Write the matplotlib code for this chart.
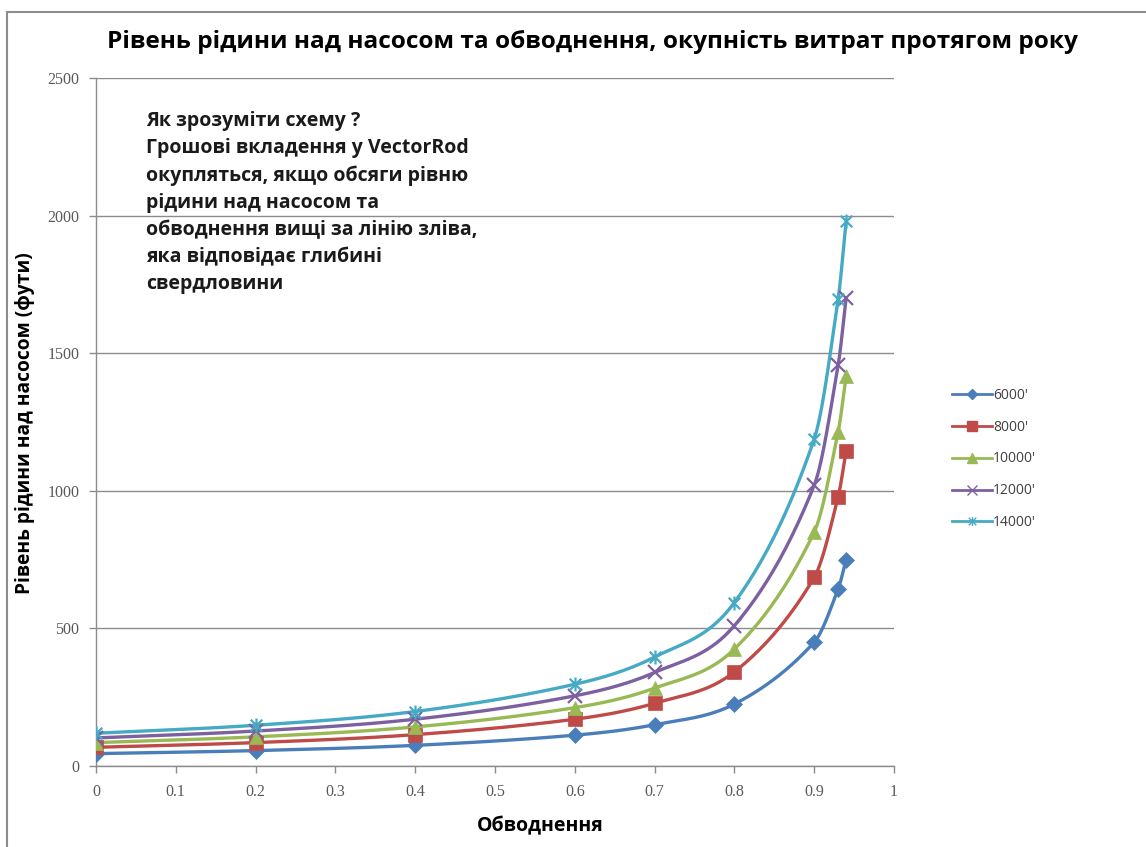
import numpy as np
import matplotlib
matplotlib.use("Agg")
import matplotlib.pyplot as plt
from matplotlib.path import Path
from matplotlib.lines import Line2D

plt.rcParams['font.family'] = ['Open Sans', 'DejaVu Sans']

# Water cut values (fraction)
water_cut = [0.0, 0.2, 0.4, 0.6, 0.7, 0.8, 0.9, 0.93, 0.94]

# Fluid level above pump (ft) for each well depth
depths = ["6000'", "8000'", "10000'", "12000'", "14000'"]
level_6000 = [45, 56, 75, 112, 150, 225, 450, 643, 750]
level_8000 = [68, 85, 114, 170, 228, 342, 685, 978, 1145]
level_10000 = [85, 106, 142, 212, 283, 425, 850, 1214, 1417]
level_12000 = [102, 127, 170, 255, 340, 510, 1020, 1457, 1700]
level_14000 = [119, 148, 198, 297, 396, 594, 1188, 1697, 1980]

x_ticks = [0, 0.1, 0.2, 0.3, 0.4, 0.5, 0.6, 0.7, 0.8, 0.9, 1]
x_tick_labels = ["0", "0.1", "0.2", "0.3", "0.4", "0.5", "0.6", "0.7", "0.8", "0.9", "1"]
y_ticks = [0, 500, 1000, 1500, 2000, 2500]

title = "Рівень рідини над насосом та обводнення, окупність витрат протягом року"
x_label = "Обводнення"
y_label = "Рівень рідини над насосом (фути)"
note = ("Як зрозуміти схему ?\n"
        "Грошові вкладення у VectorRod\n"
        "окупляться, якщо обсяги рівню\n"
        "рідини над насосом та\n"
        "обводнення вищі за лінію зліва,\n"
        "яка відповідає глибині\n"
        "свердловини")

colors = ["#4A7EBB", "#BE4B48", "#98B954", "#7D60A0", "#46AAC5"]

# Star marker: an x crossed with a vertical bar
star_path = Path(
    [(-1, -1), (1, 1), (-1, 1), (1, -1), (0, -1.2), (0, 1.2)],
    [Path.MOVETO, Path.LINETO, Path.MOVETO, Path.LINETO, Path.MOVETO, Path.LINETO],
)
markers = ["D", "s", "^", "x", star_path]
marker_sizes = [8, 10, 10, 10, 10]


def smooth(xs, ys, n=40):
    """Cubic Hermite curve through the points with centred-difference slopes."""
    xs = np.asarray(xs, float)
    ys = np.asarray(ys, float)
    m = len(xs)
    slopes = np.empty(m)
    for i in range(m):
        a = max(i - 1, 0)
        b = min(i + 1, m - 1)
        slopes[i] = (ys[b] - ys[a]) / (xs[b] - xs[a])
    px, py = [], []
    for i in range(m - 1):
        h = xs[i + 1] - xs[i]
        t = np.linspace(0, 1, n)
        h00 = 2 * t**3 - 3 * t**2 + 1
        h10 = t**3 - 2 * t**2 + t
        h01 = -2 * t**3 + 3 * t**2
        h11 = t**3 - t**2
        px.extend(xs[i] + t * h)
        py.extend(h00 * ys[i] + h10 * h * slopes[i] + h01 * ys[i + 1] + h11 * h * slopes[i + 1])
    return np.array(px), np.array(py)


fig = plt.figure(figsize=(11.46, 8.47), dpi=100)
W, H = 1146, 847
ax = fig.add_axes([96 / W, 1 - 766 / H, (894 - 96) / W, (766 - 78) / H])

series = [level_6000, level_8000, level_10000, level_12000, level_14000]
handles = []
for vals, name, c, mk, ms in zip(series, depths, colors, markers, marker_sizes):
    sx, sy = smooth(water_cut, vals)
    ax.plot(sx, sy, color=c, lw=2.4, solid_capstyle='round', zorder=3)
    lw_m = 1.6 if (isinstance(mk, Path) or mk == "x") else 0.5
    ax.plot(water_cut, vals, linestyle='none', marker=mk, markersize=ms,
            color=c, markeredgecolor=c, markeredgewidth=lw_m, zorder=4)
    handles.append(Line2D([0], [0], color=c, lw=2.0, marker=mk,
                          markersize=ms * 0.65, markeredgewidth=1.0,
                          markerfacecolor=c, markeredgecolor=c))

ax.set_xlim(0, 1)
ax.set_ylim(0, 2500)
ax.set_xticks(x_ticks)
ax.set_xticklabels(x_tick_labels)
ax.set_yticks(y_ticks)
ax.yaxis.grid(True, color="#8C8C8C", lw=1.0)
ax.set_axisbelow(True)
for s in ["top", "right"]:
    ax.spines[s].set_visible(False)
for s in ["left", "bottom"]:
    ax.spines[s].set_color("#8C8C8C")
    ax.spines[s].set_linewidth(1.0)
ax.tick_params(axis='both', colors="#8C8C8C", length=5, width=1.0,
               labelcolor="#595959")
ax.tick_params(axis='x', pad=8)
ax.tick_params(axis='y', pad=7)
for lab in ax.get_xticklabels() + ax.get_yticklabels():
    lab.set_family(['Liberation Serif', 'DejaVu Serif'])
    lab.set_fontsize(11.5)

fig.text(592 / W, 1 - 42 / H, title, ha='center', va='center',
         fontsize=17.6, fontweight='bold', color='black')
fig.text(540 / W, 1 - 826 / H, x_label, ha='center', va='center',
         fontsize=14, fontweight='bold', color='black')
fig.text(25 / W, 1 - 423 / H, y_label, ha='center', va='center',
         rotation=90, fontsize=13.8, fontweight='bold', color='black')
fig.text(146 / W, 1 - 111 / H, note, ha='left', va='top',
         fontsize=14, fontweight='bold', color='#1a1a1a', linespacing=1.47)

leg = fig.legend(handles, depths, loc='upper left',
                 bbox_to_anchor=(946 / W, 1 - 382 / H), frameon=False,
                 fontsize=10, handlelength=2.9, handletextpad=0.1,
                 labelspacing=1.22, borderaxespad=0)
for t in leg.get_texts():
    t.set_color("#404040")

# outer chart frame (top and left edges)
fig.add_artist(Line2D([7 / W, 1], [1 - 12 / H, 1 - 12 / H], color="#8C8C8C", lw=1.5))
fig.add_artist(Line2D([7 / W, 7 / W], [0, 1 - 12 / H], color="#8C8C8C", lw=1.5))

fig.savefig("out.png", dpi=100)
